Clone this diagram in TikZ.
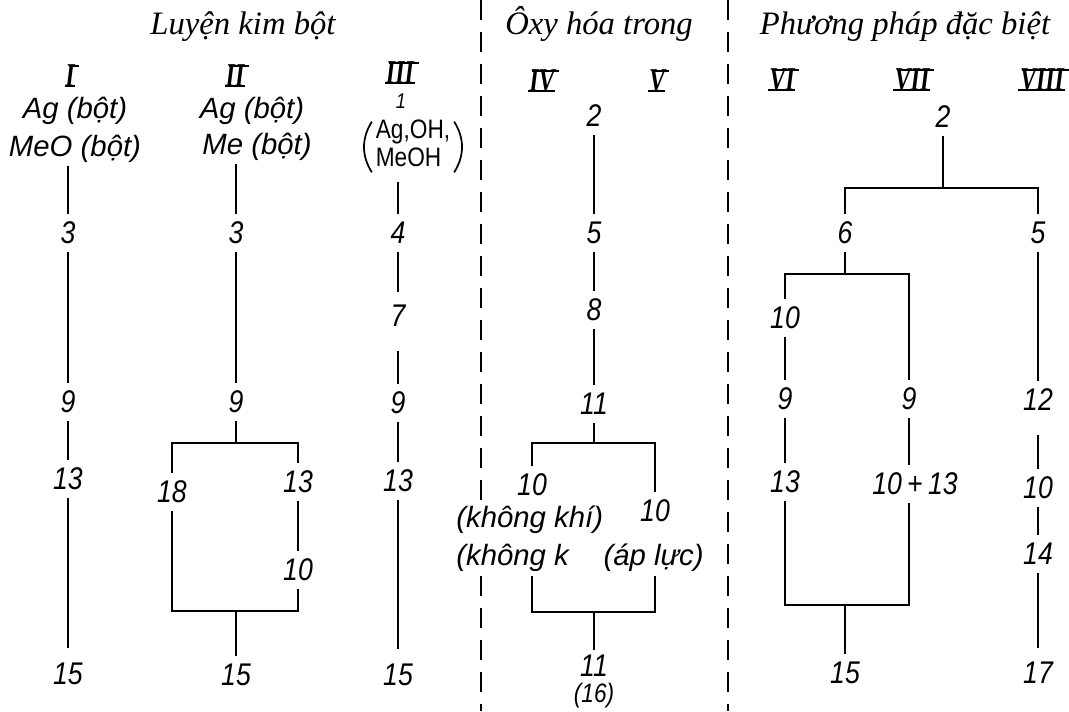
\documentclass[tikz,border=0pt]{standalone}
\usepackage{fontspec}
\setmainfont{Liberation Serif}
\newfontfamily\lblfont{Liberation Sans}
\newfontfamily\numfont[FakeStretch=0.85]{Liberation Sans}
\newfontfamily\romfont[FakeStretch=0.72]{Liberation Serif}
\newcommand\romnum[1]{%
  \setbox0=\hbox{#1}%
  \hbox{\rlap{\kern-0.04\wd0\rule[-0.4pt]{1.06\wd0}{1.4pt}}%
  \rlap{\kern0.18\ht0\kern-0.04\wd0\raisebox{\ht0}{\rule[-1.2pt]{1.06\wd0}{1.4pt}}}%
  \box0}}
\begin{document}
\begin{tikzpicture}[x=0.75pt,y=-0.75pt,
  num/.style={font=\numfont\itshape\fontsize{23.5}{26}\selectfont, inner sep=0pt, outer sep=6pt},
  smallnum/.style={font=\numfont\itshape\fontsize{16}{18}\selectfont, inner sep=0pt, outer sep=4pt},
  lbl/.style={font=\lblfont\itshape\fontsize{22}{26}\selectfont, inner sep=0pt, outer sep=3pt},
  cover/.style={fill=white, inner ysep=4pt, inner xsep=1pt, outer sep=0pt},
  ttl/.style={font=\itshape\fontsize{24.5}{28}\selectfont, inner sep=0pt},
  rom/.style={font=\romfont\bfseries\itshape\fontsize{25}{26}\selectfont, inner sep=0pt},
  grp/.style={font=\numfont\fontsize{20}{21}\selectfont, inner sep=0pt, outer sep=0pt},
  paren/.style={line width=1.3pt},
  ln/.style={line width=1.6pt},
  sep/.style={line width=1.6pt, dash pattern=on 15pt off 9pt}]
\useasboundingbox (0,0) rectangle (1069,711);

% separators
\draw[sep] (481,0) -- (481,711);
\draw[sep] (728,0) -- (728,711);

% titles
\node[ttl, anchor=base] (t1) at (243,34) {Luyện kim bột};
\node[ttl, anchor=base] (t2) at (599,34) {Ôxy hóa trong};
\node[ttl, anchor=base] (t3) at (905,34) {Phương pháp đặc biệt};

% roman numerals
\node[rom] (rI)    at (70,76)   {\romnum{I}};
\node[rom] (rII)   at (235,76)  {\romnum{II}};
\node[rom] (rIII)  at (400,73)  {\romnum{III}};
\node[rom] (rIV)   at (542,81)  {\romnum{IV}};
\node[rom] (rV)    at (657,81)  {\romnum{V}};
\node[rom] (rVI)   at (782,80)  {\romnum{VI}};
\node[rom] (rVII)  at (912,80)  {\romnum{VII}};
\node[rom] (rVIII) at (1042,80) {\romnum{VIII}};

% column I
\node[lbl, anchor=base] (Iag)  at (75,118) {Ag (bột)};
\node[lbl, anchor=base] (Imeo) at (75,156) {MeO (bột)};
\node[num] (I3)  at (68,233) {3};
\node[num] (I9)  at (68,402) {9};
\node[num] (I13) at (68,479) {13};
\node[num] (I15) at (68,674) {15};
\draw[ln] (Imeo.south -| I3) -- (I3);
\draw[ln] (I3) -- (I9);
\draw[ln] (I9) -- (I13);
\draw[ln, shorten >=5pt] (I13) -- (I15);

% column II
\node[lbl, anchor=base] (IIag) at (252,118) {Ag (bột)};
\node[lbl, anchor=base] (IIme) at (257,154) {Me (bột)};
\node[num] (II3)  at (236,233) {3};
\node[num] (II9)  at (236,402) {9};
\node[num] (II18) at (172,492) {18};
\node[num] (II13) at (298,482) {13};
\node[num] (II10) at (298,570) {10};
\node[num] (II15) at (236,675) {15};
\coordinate (b2t) at (236,443);
\coordinate (b2b) at (236,611);
\draw[ln] (IIme.south -| II3) -- (II3);
\draw[ln] (II3) -- (II9);
\draw[ln] (II9) -- (b2t);
\draw[ln] (II18) |- (b2t) -| (II13);
\draw[ln] (II13) -- (II10);
\draw[ln] (II18) |- (b2b) -| (II10);
\draw[ln] (b2b) -- (II15);

% column III
\node[smallnum] (III1) at (401,101) {1};
\node[grp] (IIIg) at (413,147) {\begin{tabular}{@{}l@{}}Ag,OH,\\MeOH\end{tabular}};
\draw[paren] ([xshift=-3pt,yshift=-2pt]IIIg.north west) to[bend right=32] ([xshift=-3pt,yshift=2pt]IIIg.south west);
\draw[paren] ([xshift=3pt,yshift=-2pt]IIIg.north east) to[bend left=32] ([xshift=3pt,yshift=2pt]IIIg.south east);
\node[num] (III4)  at (398,233) {4};
\node[num] (III7)  at (398,316) {7};
\node[num] (III9)  at (398,403) {9};
\node[num] (III13) at (398,481) {13};
\node[num] (III15) at (398,675) {15};
\draw[ln, shorten <=5pt] (IIIg.south -| III4) -- (III4);
\draw[ln, shorten >=4pt] (III4) -- (III7);
\draw[ln, shorten <=12pt] (III7) -- (III9);
\draw[ln] (III9) -- (III13);
\draw[ln, shorten >=5pt] (III13) -- (III15);

% middle column IV / V
\node[num] (M2)   at (594,116) {2};
\node[num] (M5)   at (594,233) {5};
\node[num] (M8)   at (594,310) {8};
\node[num] (M11)  at (594,404) {11};
\node[num] (M10a) at (532,485) {10};
\node[num] (M10b) at (655,511) {10};
\node[lbl, cover, anchor=base west] (kk1) at (455,527) {(không khí)};
\node[lbl, cover, anchor=base west] (kk2) at (455,565) {(không k};
\node[lbl, cover, anchor=base east] (al)  at (705,565) {(áp lực)};
\node[num] (M11b) at (594,666) {11};
\node[smallnum, font=\numfont\itshape\fontsize{20}{22}\selectfont] (M16) at (594,696) {(16)};
\coordinate (mt) at (594,443);
\coordinate (mb) at (594,612);
\draw[ln] (M2) -- (M5);
\draw[ln] (M5) -- (M8);
\draw[ln] (M8) -- (M11);
\draw[ln] (M11) -- (mt);
\draw[ln] (M10a) |- (mt) -| (M10b);
\draw[ln] (M10a |- kk2.south) |- (mb) -| (M10b |- al.south);
\draw[ln, shorten >=-2pt] (mb) -- (M11b);

% right section VI / VII / VIII
\node[num] (R2)    at (943,117) {2};
\node[num] (R6)    at (845,233) {6};
\node[num] (R5)    at (1038,233) {5};
\node[num] (R10a)  at (785,318) {10};
\node[num] (R9a)   at (785,399) {9};
\node[num] (R13a)  at (785,482) {13};
\node[num] (R9b)   at (909,399) {9};
\node[num] (R1013) at (915,484) {10\,+\,13};
\node[num] (R15)   at (845,673) {15};
\node[num] (R12)   at (1038,400) {12};
\node[num] (R10c)  at (1038,488) {10};
\node[num] (R14)   at (1038,554) {14};
\node[num] (R17)   at (1038,673) {17};
\coordinate (rt)  at (943,188);
\coordinate (r6b) at (845,274);
\coordinate (rb)  at (845,605);
\draw[ln] (R2) -- (rt);
\draw[ln] (R6) |- (rt) -| (R5);
\draw[ln] (R6) -- (r6b);
\draw[ln] (R10a) |- (r6b) -| (R9b);
\draw[ln] (R10a) -- (R9a);
\draw[ln] (R9a) -- (R13a);
\draw[ln] (R9b) -- (R1013.north -| R9b);
\draw[ln] (R13a) |- (rb) -| (R1013.south -| R9b);
\draw[ln] (rb) -- (R15);
\draw[ln] (R5) -- (R12);
\draw[ln, shorten <=12pt] (R12) -- (R10c);
\draw[ln] (R10c) -- (R14);
\draw[ln, shorten >=5pt] (R14) -- (R17);
\end{tikzpicture}
\end{document}
